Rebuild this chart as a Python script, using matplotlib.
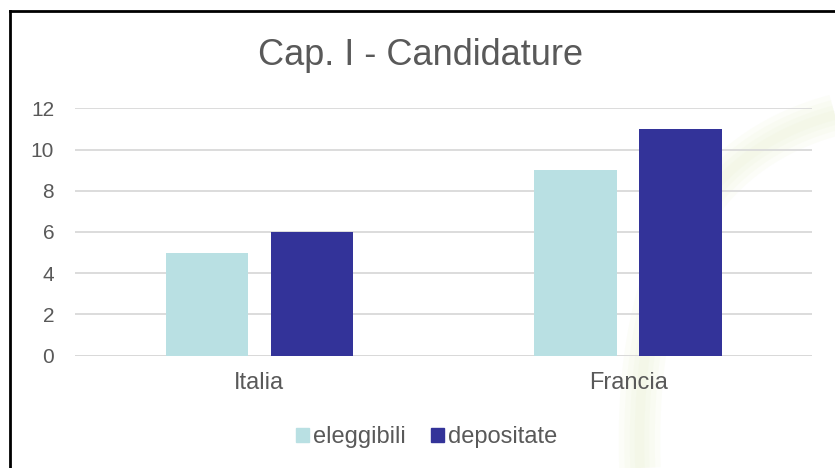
import numpy as np
from matplotlib import pyplot as plt
from matplotlib.lines import Line2D
from matplotlib.patches import Patch

categories = ['Italia', 'Francia']
eleggibili = [5, 9]
depositate = [6, 11]
yticks = [0, 2, 4, 6, 8, 10, 12]

plt.rcParams['font.family'] = ['Liberation Sans', 'DejaVu Sans']
text_col = '#595959'
light = '#b9e0e3'
dark = '#333399'

fig = plt.figure(figsize=(8.35, 4.68), dpi=100)

# very faint, blurred watermark swoosh in the background
t = np.linspace(0, 1, 80)
px = (1 - t) ** 2 * 640 + 2 * (1 - t) * t * 630 + t ** 2 * 835
py = (1 - t) ** 2 * 468 + 2 * (1 - t) * t * 170 + t ** 2 * 115
for lw in [30, 22, 14, 7]:
    fig.add_artist(Line2D(px / 835, 1 - py / 468, color='#e8f0cc', alpha=0.12,
                          linewidth=lw, solid_capstyle='butt',
                          transform=fig.transFigure, zorder=0))

ax = fig.add_axes([0.0898, 0.240, 0.8832, 0.5286])
ax.set_facecolor('none')

x = np.arange(len(categories))
w = 0.224
ax.bar(x - 0.1424, eleggibili, w, color=light, zorder=3, label='eleggibili')
ax.bar(x + 0.1424, depositate, w, color=dark, zorder=3, label='depositate')

ax.set_xlim(-0.5, 1.5)
ax.set_ylim(0, 12)
ax.set_yticks(yticks)
ax.set_xticks(x)
ax.set_xticklabels(categories)
ax.grid(axis='y', color='#d9d9d9', linewidth=1.3, zorder=0)
ax.axhline(0, color='#d9d9d9', linewidth=1.3, zorder=1)
for s in ax.spines.values():
    s.set_visible(False)
ax.tick_params(axis='both', length=0, labelcolor=text_col)
ax.tick_params(axis='y', pad=15, labelsize=15)
ax.tick_params(axis='x', pad=12, labelsize=17)

fig.text(0.5036, 0.861, 'Cap. I - Candidature', ha='center', va='baseline',
         fontsize=26, color=text_col)

handles = [Patch(color=light), Patch(color=dark)]
fig.legend(handles, ['eleggibili', 'depositate'], loc='center',
           bbox_to_anchor=(0.511, 0.066), ncol=2, frameon=False,
           fontsize=17, labelcolor=text_col, handlelength=0.55,
           handleheight=0.55, handletextpad=0.17, columnspacing=1.05)

# frame lines (top and left)
fig.add_artist(Line2D([0.012, 1.0], [0.976, 0.976], color='black', linewidth=2,
                      transform=fig.transFigure))
fig.add_artist(Line2D([0.012, 0.012], [0.0, 0.976], color='black', linewidth=2,
                      transform=fig.transFigure))

fig.savefig('out.png')
plt.close(fig)
